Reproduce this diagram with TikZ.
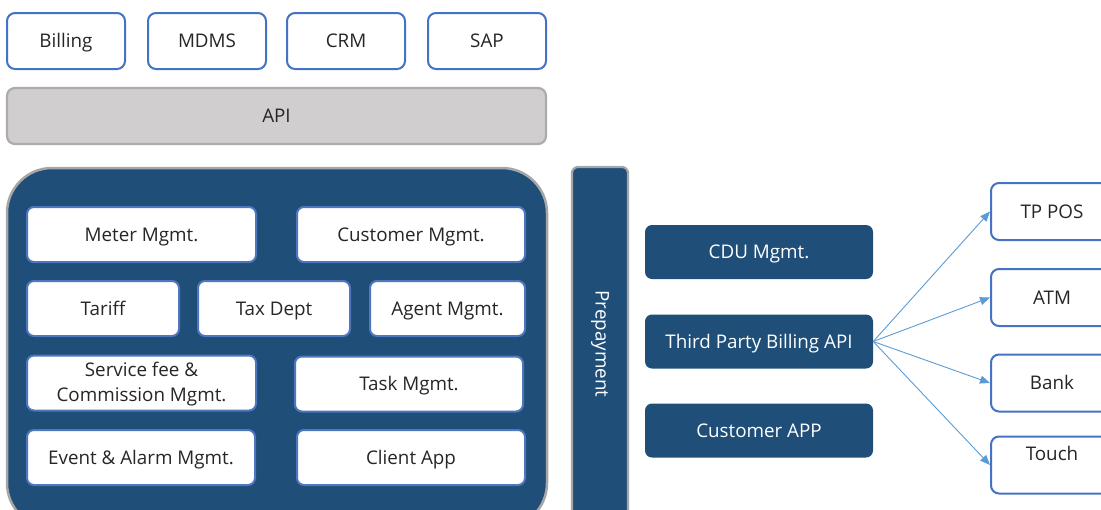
\documentclass[tikz,border=0pt]{standalone}
\usepackage{fontspec}
\setmainfont{Open Sans}
\usetikzlibrary{arrows.meta}
\definecolor{dblue}{HTML}{1F4E79}
\definecolor{bborder}{HTML}{4472C4}
\definecolor{ibborder}{HTML}{4F76BE}
\definecolor{apifill}{HTML}{D0CECE}
\definecolor{apiborder}{HTML}{AFABAB}
\definecolor{panelborder}{HTML}{A6A6A6}
\definecolor{arrowc}{HTML}{5B9BD5}
\definecolor{txt}{HTML}{262626}
\tikzset{
  basefont/.style={font=\fontsize{18.8}{25}\selectfont},
  oneline/.style={text height=15.6pt, text depth=2.2pt},
  topbox/.style={basefont, oneline, draw=bborder, line width=2pt, fill=white, rounded corners=8pt, text=txt, minimum width=118pt, minimum height=56pt, inner sep=0pt},
  apibox/.style={basefont, oneline, draw=apiborder, line width=2.2pt, fill=apifill, rounded corners=8pt, text=txt, minimum width=539pt, minimum height=56pt, inner sep=0pt},
  panel/.style={draw=panelborder, line width=2.5pt, fill=dblue, rounded corners=45pt, inner sep=0pt},
  inboxbase/.style={basefont, draw=ibborder, line width=2pt, fill=white, rounded corners=7pt, text=txt, minimum height=55pt, inner sep=0pt, align=center},
  inbox/.style={inboxbase, oneline},
  prebar/.style={draw=panelborder, line width=2.2pt, fill=dblue, rounded corners=6pt, inner sep=0pt},
  darkbox/.style={basefont, oneline, fill=dblue, rounded corners=7pt, text=white, minimum width=228pt, minimum height=54pt, inner sep=0pt},
  rbox/.style={basefont, oneline, draw=bborder, line width=2pt, fill=white, rounded corners=8pt, text=txt, minimum width=122pt, minimum height=57pt, inner sep=0pt},
  conn/.style={draw=arrowc, line width=0.9pt, -{Triangle[length=10pt,width=8pt]}}
}
\begin{document}
\begin{tikzpicture}[x=1pt,y=-1pt]
\useasboundingbox (0,0) rectangle (1101,509);
\clip (0,0) rectangle (1101,509);
% top systems
\node[topbox] (billing) at (66,41) {Billing};
\node[topbox] (mdms) at (207,41) {MDMS};
\node[topbox] (crm) at (346,41) {CRM};
\node[topbox] (sap) at (487,41) {SAP};
\node[apibox] (api) at (276.5,116) {API};
% core panel
\node[panel, minimum width=540pt, minimum height=360pt] (core) at (277,348) {};
\node[inbox, minimum width=229pt] (meter) at (141.5,234.5) {Meter Mgmt.};
\node[inbox, minimum width=228pt] (custm) at (411,234.5) {Customer Mgmt.};
\node[inbox, minimum width=152pt] (tariff) at (103,308.5) {Tariff};
\node[inbox, minimum width=152pt] (tax) at (274,308.5) {Tax Dept};
\node[inbox, minimum width=155pt] (agent) at (447.5,308.5) {Agent Mgmt.};
\node[inboxbase, minimum width=229pt, text height=41pt, text depth=5pt] (service) at (141.5,383) {Service fee \&\\Commission Mgmt.};
\node[inbox, minimum width=228pt] (task) at (409,384) {Task Mgmt.};
\node[inbox, minimum width=228pt] (event) at (141,457.5) {Event \& Alarm Mgmt.};
\node[inbox, minimum width=228pt] (client) at (411,457.5) {Client App};
% prepayment bar
\node[prebar, minimum width=56pt, minimum height=370pt] (pre) at (600,352) {};
\node[basefont, text=white, rotate=-90] (pretext) at (600,344) {Prepayment};
% dark boxes
\node[darkbox] (cdu) at (759,252) {CDU Mgmt.};
\node[darkbox] (third) at (759,341.5) {Third Party Billing API};
\node[darkbox] (capp) at (759,430.5) {Customer APP};
% right boxes
\node[rbox] (tppos) at (1052,211.5) {TP POS};
\node[rbox] (atm) at (1052,297.5) {ATM};
\node[rbox] (bank) at (1052,383) {Bank};
\node[rbox] (touch) at (1052,465) {\raisebox{11pt}{Touch}};
% connectors
\draw[conn] (third.east) -- (tppos.west);
\draw[conn] (third.east) -- (atm.west);
\draw[conn] (third.east) -- (bank.west);
\draw[conn] (third.east) -- (touch.west);
\end{tikzpicture}
\end{document}
